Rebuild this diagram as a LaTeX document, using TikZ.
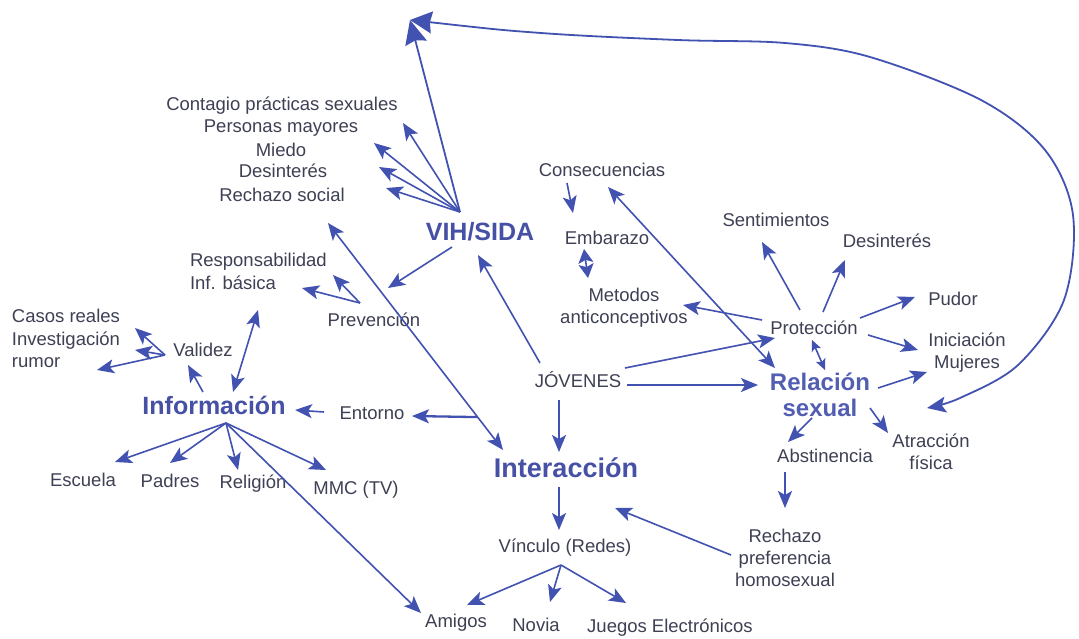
\documentclass[tikz,border=0pt]{standalone}
\usepackage{fontspec}
\setmainfont{Liberation Sans}
\usetikzlibrary{arrows.meta,calc}
\definecolor{txt}{RGB}{62,64,84}
\definecolor{hl}{RGB}{70,80,165}
\definecolor{hltwo}{RGB}{82,94,178}
\definecolor{arc}{RGB}{66,82,176}
\begin{document}
\begin{tikzpicture}[x=1pt,y=-1pt,
  lbl/.style={font=\fontsize{18.5}{22.5}\selectfont, text=txt, inner sep=0pt, outer sep=0pt, text height=13pt, text depth=4pt},
  lblm/.style={font=\fontsize{18.5}{22}\selectfont, text=txt, inner sep=0pt, outer sep=0pt, align=center},
  big/.style={font=\fontsize{25}{28}\selectfont\bfseries, text=hl, inner sep=0pt, outer sep=0pt, text height=18pt, text depth=4pt},
  bigm/.style={font=\fontsize{24}{26}\selectfont\bfseries, text=hltwo, inner sep=0pt, outer sep=0pt, align=center},
  tip/.tip={Stealth[length=17pt,width=14pt,inset=4pt]},
  smalltip/.tip={Stealth[length=11pt,width=10pt,inset=2.5pt]},
  ar/.style={draw=arc, line width=1.6pt, -tip},
  dar/.style={draw=arc, line width=1.6pt, tip-tip},
]
\fill[white] (0,0) rectangle (1079,638);
\useasboundingbox (0,0) rectangle (1079,638);

% ---- nodes
\node[lbl] (contagio) at (282,106) {Contagio prácticas sexuales};
\node[lbl] (personas) at (281,128) {Personas mayores};
\node[lbl] (miedo) at (281,152) {Miedo};
\node[lbl] (desint1) at (283,173) {Desinterés};
\node[lbl] (rechsoc) at (282,197) {Rechazo social};
\node[big] (vih) at (480,233) {VIH/SIDA};
\node[lbl,anchor=west] (resp) at (190,262) {Responsabilidad};
\node[lbl,anchor=west] (infb) at (190,285) {Inf. básica};
\node[lbl] (prev) at (374,322) {Prevención};
\node[lbl,anchor=west] (casos) at (12,318) {Casos reales};
\node[lbl,anchor=west] (invest) at (12,341) {Investigación};
\node[lbl,anchor=west] (rumor) at (12,363) {rumor};
\node[lbl] (validez) at (203,352) {Validez};
\node[big] (info) at (214,407) {Información};
\node[lbl] (entorno) at (372,415) {Entorno};
\node[lbl] (escuela) at (83,482) {Escuela};
\node[lbl] (padres) at (170,483) {Padres};
\node[lbl] (religion) at (253,484) {Religión};
\node[lbl] (mmc) at (356,490) {MMC (TV)};
\node[lbl] (amigos) at (456,623) {Amigos};
\node[lbl] (novia) at (536,627) {Novia};
\node[lbl] (juegos) at (670,628) {Juegos Electrónicos};
\node[lbl] (vinculo) at (565,548) {Vínculo (Redes)};
\node[big,font=\fontsize{27}{30}\selectfont\bfseries] (interac) at (566,470) {Interacción};
\node[lbl] (jovenes) at (578,383) {JÓVENES};
\node[lbl] (consec) at (602,172) {Consecuencias};
\node[lbl] (embarazo) at (607,240) {Embarazo};
\node[lblm] (metodos) at (624,308) {Metodos\\anticonceptivos};
\node[lbl] (sentim) at (776,222) {Sentimientos};
\node[lbl] (desint2) at (887,243) {Desinterés};
\node[lbl] (pudor) at (953,301) {Pudor};
\node[lbl] (protec) at (814,330) {Protección};
\node[lblm] (inic) at (967,353) {Iniciación\\Mujeres};
\node[bigm] (relac) at (820,395) {Relación\\sexual};
\node[lbl] (abst) at (825,458) {Abstinencia};
\node[lblm] (atrac) at (931,452) {Atracción\\física};
\node[lblm] (rechazo) at (785,558) {Rechazo\\preferencia\\homosexual};

% ---- helper coordinates
\coordinate (top) at (410,20);
\coordinate (vihhub) at ($(vih)+(-20,-21)$);
\coordinate (prevhub) at ($(prev)+(-14,-19)$);
\coordinate (valhub) at ($(validez)+(-38,3)$);
\coordinate (infohub) at ($(info)+(12,16)$);
\coordinate (vinhub) at ($(vinculo)+(-4,17)$);
\coordinate (e1) at ($(rechsoc)+(46,26)$);
\coordinate (e2) at ($(interac)+(-63,-20)$);
\coordinate (curveend) at ($(relac)+(107,13)$);

% ---- big loop
\draw[draw=arc, line width=1.8pt, -{Stealth[length=24pt,width=22pt,inset=3pt]}] (vihhub) -- (top);
\draw[draw=arc, line width=1.8pt, {Stealth[length=22pt,width=22pt,inset=2pt]}-{Stealth[length=19pt,width=16pt,inset=4pt]}]
  plot[smooth, tension=0.55] coordinates {(top) (541,33) (678,40) (785,43) (870,57) (981,100) (1045,150) (1073,215) (1064,300) (1018,365) (960,398) (curveend)};

% ---- VIH/SIDA fan
\draw[ar] (vihhub) -- ($(contagio)+(121,17)$);
\draw[ar] (vihhub) -- ($(personas)+(93,15)$);
\draw[ar] (vihhub) -- ($(desint1)+(96,-6)$);
\draw[ar] (vihhub) -- ($(rechsoc)+(104,-9)$);
\draw[ar] ($(vih)+(-28,14)$) -- ($(prev)+(14,-34)$);

% ---- Rechazo social <-> Interaccion, Entorno
\draw[dar] (e1) -- (e2);
\draw[ar, line width=2.3pt] ($(e1)!0.855!(e2)$) -- ($(entorno)+(40,1)$);
\draw[ar] ($(entorno)+(-48,-3)$) -- ($(info)+(81,3)$);

% ---- Prevencion
\draw[ar] (prevhub) -- ($(resp.west)+(143,13)$);
\draw[ar] (prevhub) -- ($(infb.west)+(112,3)$);

% ---- Informacion
\draw[dar] ($(info)+(19,-15)$) -- ($(resp.west)+(68,48)$);
\draw[ar] ($(info)+(-11,-15)$) -- ($(validez)+(-15,13)$);
\draw[ar] (valhub) -- ($(casos.west)+(123,10)$);
\draw[ar] (valhub) -- ($(invest.west)+(123,9)$);
\draw[ar] (valhub) -- ($(rumor.west)+(85,7)$);
\draw[ar] (infohub) -- ($(escuela)+(32,-20)$);
\draw[ar] (infohub) -- ($(padres)+(0,-20)$);
\draw[ar] (infohub) -- ($(religion)+(-15,-14)$);
\draw[ar] (infohub) -- ($(mmc)+(-30,-20)$);
\draw[ar] (infohub) -- ($(amigos)+(-35,-10)$);

% ---- Jovenes
\draw[ar] ($(jovenes)+(-38,-20)$) -- ($(vih)+(-2,22)$);
\draw[ar] ($(jovenes)+(-19,17)$) -- ($(interac)+(-7,-18)$);
\draw[ar] ($(jovenes)+(47,-15)$) -- ($(protec)+(-39,8)$);
\draw[ar] ($(jovenes)+(49,2)$) -- ($(relac)+(-62,-10)$);

% ---- Interaccion / Vinculo
\draw[ar] ($(interac)+(-7,17)$) -- ($(vinculo)+(-6,-18)$);
\draw[ar] (vinhub) -- ($(amigos)+(11,-18)$);
\draw[ar] (vinhub) -- ($(novia)+(14,-25)$);
\draw[ar] (vinhub) -- ($(juegos)+(-44,-25)$);
\draw[ar] ($(rechazo)+(-54,-3)$) -- ($(interac)+(49,38)$);

% ---- Relacion sexual
\draw[ar, line width=2.3pt] ($(abst)+(-40,14)$) -- ($(rechazo)+(0,-50)$);
\draw[ar] ($(relac)+(-8,23)$) -- ($(abst)+(-37,-16)$);
\draw[ar] ($(relac)+(50,13)$) -- ($(atrac)+(-43,-19)$);
\draw[ar] ($(relac)+(58,-7)$) -- ($(inic)+(-40,19)$);
\draw[draw=arc, line width=1.6pt, smalltip-smalltip] ($(protec)+(-2,10)$) -- ($(relac)+(5,-25)$);
\draw[dar] ($(consec)+(6,15)$) -- ($(relac)+(-45,-27)$);

% ---- Proteccion
\draw[ar] ($(protec)+(54,5)$) -- ($(inic)+(-49,-3)$);
\draw[ar] ($(protec)+(46,-12)$) -- ($(pudor)+(-38,-4)$);
\draw[ar] ($(protec)+(9,-18)$) -- ($(desint2)+(-42,17)$);
\draw[ar] ($(protec)+(-14,-20)$) -- ($(sentim)+(-14,20)$);
\draw[ar] ($(protec)+(-52,-10)$) -- ($(metodos)+(59,-3)$);

% ---- Consecuencias / Embarazo
\draw[ar] ($(consec)+(-35,11)$) -- ($(embarazo)+(-34,-27)$);
\draw[draw=arc, line width=1.6pt, {Stealth[length=14pt,width=15pt,inset=3pt]}-{Stealth[length=14pt,width=15pt,inset=3pt]}] ($(embarazo)+(-23,9)$) -- ($(metodos)+(-36,-30)$);
\end{tikzpicture}
\end{document}
